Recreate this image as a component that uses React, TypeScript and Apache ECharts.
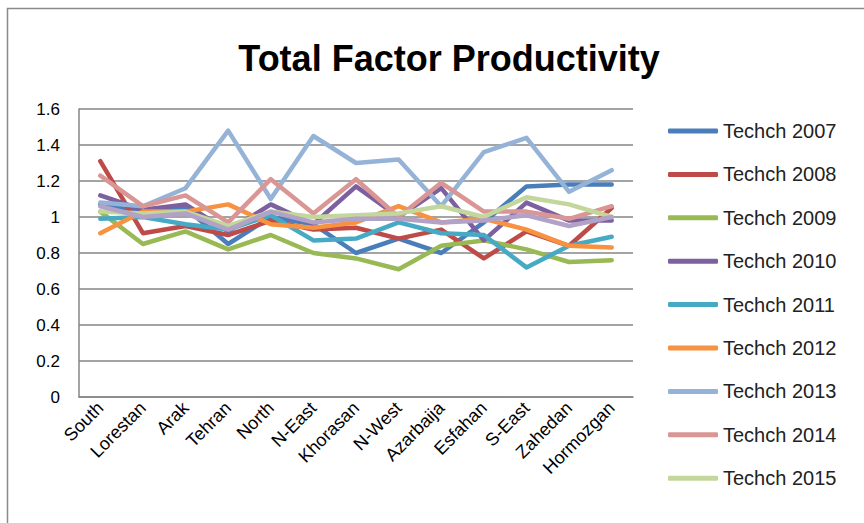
import React, { useEffect, useRef } from "react";
import * as echarts from "echarts";

const categories = ["South", "Lorestan", "Arak", "Tehran", "North", "N-East", "Khorasan", "N-West", "Azarbaija", "Esfahan", "S-East", "Zahedan", "Hormozgan"];

const seriesNames = ["Techch 2007", "Techch 2008", "Techch 2009", "Techch 2010", "Techch 2011", "Techch 2012", "Techch 2013", "Techch 2014", "Techch 2015", "Techch 2016"];
const legendNames = seriesNames.slice(0, 9);

const t2007 = [1.07, 1.03, 1.05, 0.85, 1.0, 0.96, 0.8, 0.88, 0.8, 0.97, 1.17, 1.18, 1.18];
const t2008 = [1.31, 0.91, 0.95, 0.9, 0.98, 0.93, 0.94, 0.88, 0.93, 0.77, 0.92, 0.84, 1.05];
const t2009 = [1.03, 0.85, 0.92, 0.82, 0.9, 0.8, 0.77, 0.71, 0.84, 0.87, 0.82, 0.75, 0.76];
const t2010 = [1.12, 1.04, 1.07, 0.92, 1.07, 0.96, 1.17, 1.0, 1.16, 0.87, 1.08, 0.98, 0.98];
const t2011 = [0.99, 1.0, 0.96, 0.93, 1.01, 0.87, 0.88, 0.97, 0.91, 0.9, 0.72, 0.84, 0.89];
const t2012 = [0.91, 1.03, 1.03, 1.07, 0.96, 0.94, 0.97, 1.06, 0.97, 0.99, 0.93, 0.84, 0.83];
const t2013 = [1.08, 1.06, 1.16, 1.48, 1.1, 1.45, 1.3, 1.32, 1.06, 1.36, 1.44, 1.14, 1.26];
const t2014 = [1.23, 1.06, 1.12, 0.97, 1.21, 1.02, 1.21, 1.0, 1.19, 1.03, 1.03, 0.99, 1.06];
const t2015 = [1.03, 1.02, 1.03, 0.95, 1.03, 1.0, 1.01, 1.02, 1.06, 1.0, 1.11, 1.07, 1.0];
const t2016 = [1.06, 1.0, 1.02, 0.93, 1.03, 0.97, 0.99, 0.99, 0.97, 0.98, 1.01, 0.95, 1.0];

const allValues = [t2007, t2008, t2009, t2010, t2011, t2012, t2013, t2014, t2015, t2016];
const colors = ["#4A7EBB", "#BE4B48", "#98B954", "#7D60A0", "#46AAC5", "#F69240", "#95B3D7", "#D99694", "#C3D69B", "#B3A2C7"];

const FONT = "Liberation Sans, Arial, sans-serif";

export default function App() {
  const ref = useRef<HTMLDivElement>(null);
  useEffect(() => {
    if (!ref.current) return;
    const chart = echarts.init(ref.current, null, { renderer: "svg" });
    chart.setOption({
      animation: false,
      backgroundColor: "#ffffff",
      title: {
        text: "Total Factor Productivity",
        left: 444,
        textAlign: "center",
        top: 35,
        textStyle: { fontFamily: FONT, fontSize: 36, fontWeight: "bold", color: "#000" },
      },
      graphic: [
        {
          type: "rect",
          shape: { x: 7.5, y: 8.5, width: 900, height: 600 },
          style: { fill: "none", stroke: "#8a8a8a", lineWidth: 1.5 },
          silent: true,
        },
      ],
      legend: {
        data: legendNames,
        orient: "vertical",
        left: 668,
        top: 121,
        padding: 0,
        itemWidth: 50,
        itemHeight: 5,
        itemGap: 23.4,
        icon: "roundRect",
        textStyle: { fontFamily: FONT, fontSize: 20, color: "#222", lineHeight: 20 },
      },
      grid: { left: 79, top: 109, right: 231, bottom: 126, containLabel: false },
      xAxis: {
        type: "category",
        data: categories,
        boundaryGap: true,
        axisLine: { show: true, lineStyle: { color: "#868686", width: 1.5 } },
        axisTick: { show: false },
        axisLabel: { rotate: 45, fontFamily: FONT, fontSize: 18, color: "#000", margin: 8, interval: 0 },
      },
      yAxis: {
        type: "value",
        min: 0,
        max: 1.6,
        interval: 0.2,
        axisLine: { show: true, lineStyle: { color: "#868686", width: 1.5 } },
        axisTick: { show: false },
        splitLine: { show: true, lineStyle: { color: "#868686", width: 1.5 } },
        axisLabel: { fontFamily: FONT, fontSize: 17, color: "#000", margin: 19 },
      },
      series: allValues.map((vals, i) => ({
        name: seriesNames[i],
        type: "line",
        data: vals,
        showSymbol: false,
        symbol: "none",
        color: colors[i],
        lineStyle: { width: 4.5, color: colors[i], cap: "round", join: "round" },
      })),
    });
    return () => chart.dispose();
  }, []);
  return <div ref={ref} style={{ position: "fixed", left: 0, top: 0, width: 864, height: 523 }} />;
}
